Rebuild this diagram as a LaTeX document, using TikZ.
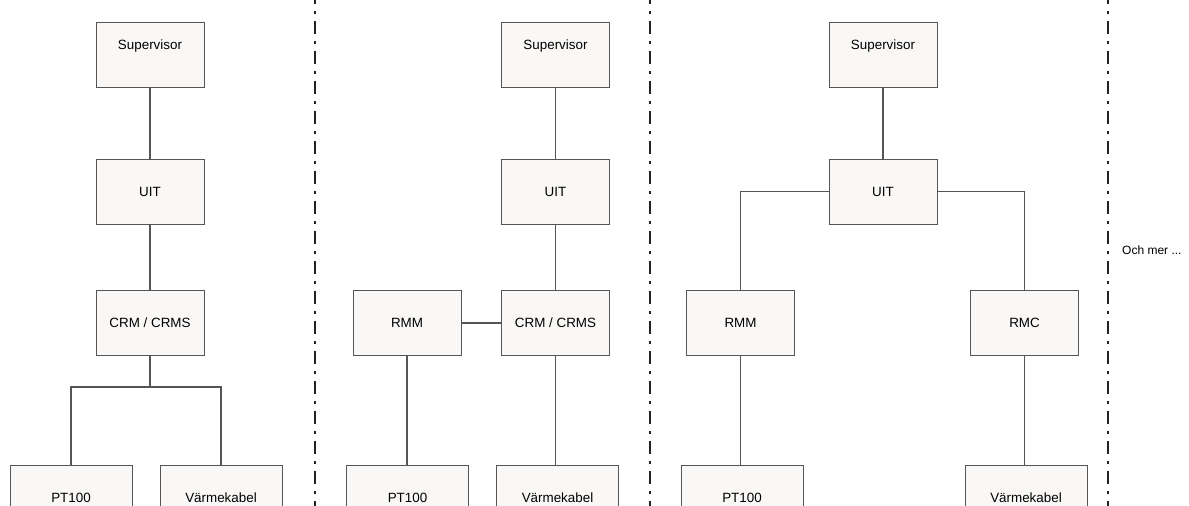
\documentclass[tikz,border=0pt]{standalone}
\usepackage{fontspec}
\setmainfont{Liberation Sans}
\usepackage{tikz}
\usetikzlibrary{arrows}

\definecolor{boxfill}{HTML}{F9F8F7}
\definecolor{boxline}{HTML}{555555}
\definecolor{divline}{HTML}{222222}

\tikzset{
	unit/.style = {draw = boxline, fill = boxfill, line width = 1pt, minimum width = 108pt, minimum height = 65pt, inner sep = 0pt, font = \fontsize{13.4}{15}\selectfont},
	sensor/.style = {unit, minimum width = 122pt},
	topunit/.style = {unit, text height = 9.5pt, text depth = 20.5pt},
	wire/.style = {draw = boxline, line width = 1.1pt},
	divider/.style = {divline, line width = 2pt, dash pattern = on 13pt off 7pt on 3pt off 7pt, dash phase = 9pt}
}

\begin{document}
\begin{tikzpicture} [x = 1pt, y = -1pt]
	\useasboundingbox (0,0) rectangle (1189,506);
	\clip (0,0) rectangle (1189,506);
	% first setup
	\node [topunit] (sup1) at (150,54.5) {Supervisor};
	\node [unit] (uit1) at (150,191.5) {UIT};
	\node [unit] (crm1) at (150,323) {CRM / CRMS};
	\node [sensor] (pt1) at (71,497.5) {PT100};
	\node [sensor] (vk1) at (221,497.5) {Värmekabel};
	\coordinate (split1) at (150,387);
	\draw [wire] (sup1) -- (uit1) -- (crm1) -- (split1);
	\draw [wire] (pt1) |- (split1) -| (vk1);
	% second setup
	\node [topunit] (sup2) at (555.5,54.5) {Supervisor};
	\node [unit] (uit2) at (555.5,191.5) {UIT};
	\node [unit] (crm2) at (555.5,323) {CRM / CRMS};
	\node [unit] (rmm2) at (407,323) {RMM};
	\node [sensor] (pt2) at (407.5,497.5) {PT100};
	\node [sensor] (vk2) at (557.5,497.5) {Värmekabel};
	\draw [wire] (sup2) -- (uit2) -- (crm2);
	\draw [wire] (rmm2) -- (crm2);
	\draw [wire] (rmm2) -- (rmm2 |- pt2.north);
	\draw [wire] (crm2) -- (crm2 |- vk2.north);
	% third setup
	\node [topunit] (sup3) at (883,54.5) {Supervisor};
	\node [unit] (uit3) at (883,191.5) {UIT};
	\node [unit] (rmm3) at (740.5,323) {RMM};
	\node [unit] (rmc3) at (1024.5,323) {RMC};
	\node [sensor] (pt3) at (742,497.5) {PT100};
	\node [sensor] (vk3) at (1026,497.5) {Värmekabel};
	\draw [wire] (sup3) -- (uit3);
	\draw [wire] (uit3) -| (rmm3);
	\draw [wire] (uit3) -| (rmc3);
	\draw [wire] (rmm3) -- (rmm3 |- pt3.north);
	\draw [wire] (rmc3) -- (rmc3 |- vk3.north);
	%\node [unit] (crm3) at (883,323) {CRM / CRMS};
	\foreach \x in {315,650,1108}
		\draw [divider] (\x,0) -- (\x,506);
	\node [anchor = west, inner sep = 0pt, font = \fontsize{12}{14}\selectfont] (more) at (1122,250) {Och mer ...};
\end{tikzpicture}
\end{document}
